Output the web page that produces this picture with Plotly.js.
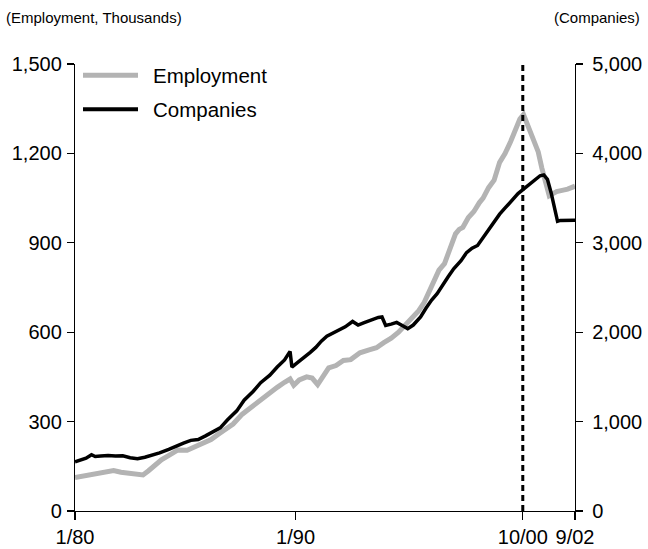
<!DOCTYPE html>
<html>
<head>
<meta charset="utf-8">
<script src="https://cdn.plot.ly/plotly-3.0.1.min.js"></script>
<style>html,body{margin:0;padding:0;background:#fff;}#chart{width:648px;height:549px;}</style>
</head>
<body>
<div id="chart"></div>
<script>
// Months since January 1980
const empMonths = [0,5,10,15,21,25,29,33,37,40,43,47,52,56,61,64,70,74,78,82,86,91,96,101,105,110,114,117,119,122,126,129,132,135,138,142,146,150,155,160,164,168,172,176,180,183,187,190,193,195,198,201,204,207,209,211,214,217,220,222,225,228,231,234,237,240,242,244,246,248,250,252,254,256,258,260,262,265,268,272];
// Employment, thousands
const employment = [112,118,121,126,136,130,126,124,121,135,150,172,190,205,204,212,228,240,258,276,292,325,350,373,390,415,432,443,422,440,450,446,424,455,480,488,505,508,531,541,548,565,580,600,625,645,672,700,740,768,808,830,875,930,945,952,985,1005,1035,1050,1085,1110,1170,1200,1240,1280,1315,1330,1300,1265,1240,1205,1150,1100,1058,1065,1072,1076,1080,1090];

const compMonths = [0,3,6,9,11,14,18,22,26,30,34,38,42,46,51,55,59,63,67,71,75,79,83,88,92,97,101,106,110,114,117,118,121,125,128,131,134,137,140,143,147,151,154,157,161,165,167,169,172,175,178,181,184,188,191,194,197,200,203,206,210,213,216,219,222,225,228,231,234,238,241,244,247,250,253,255,257,259,261,262.5,264,268,272];
// Number of companies
const companies = [550,572,590,630,610,615,620,615,617,595,585,602,625,650,690,730,760,790,800,840,880,930,1020,1120,1240,1340,1435,1520,1610,1690,1786,1610,1660,1720,1775,1830,1900,1955,1985,2020,2060,2120,2080,2105,2140,2165,2170,2075,2090,2110,2075,2040,2080,2170,2270,2360,2430,2530,2620,2710,2800,2890,2940,2970,3060,3140,3230,3320,3390,3480,3550,3600,3650,3700,3750,3760,3710,3560,3350,3240,3250,3255,3252];

const tickMonths = [0,120,243.6,272];
const tickLabels = ['1/80','1/90','10/00','9/02'];
const peakMonth = [243.6];

const seriesNames = ['Employment','Companies'];
const seriesColors = ['#b3b3b3','#000000'];

const FONT = 'Liberation Sans, Arial, Helvetica, sans-serif';

const traces = [
  {x: empMonths, y: employment, name: seriesNames[0], type: 'scatter', mode: 'lines',
   line: {color: seriesColors[0], width: 5}, yaxis: 'y', showlegend: false},
  {x: compMonths, y: companies, name: seriesNames[1], type: 'scatter', mode: 'lines',
   line: {color: seriesColors[1], width: 3.5}, yaxis: 'y2', showlegend: false}
];

const legendY = [0.975, 0.899];
const shapes = [
  {type: 'line', xref: 'x', yref: 'y', x0: peakMonth[0], x1: peakMonth[0], y0: 0, y1: 1500,
   line: {color: '#000', width: 3, dash: '6px,4px'}}
];
const annotations = [
  {text: '(Employment, Thousands)', xref: 'paper', yref: 'paper', x: -0.142, y: 1.105,
   xanchor: 'left', yanchor: 'middle', showarrow: false, font: {family: FONT, size: 15, color: '#000'}},
  {text: '(Companies)', xref: 'paper', yref: 'paper', x: 1.134, y: 1.105,
   xanchor: 'right', yanchor: 'middle', showarrow: false, font: {family: FONT, size: 15, color: '#000'}}
];
seriesNames.forEach((n, i) => {
  shapes.push({type: 'line', xref: 'paper', yref: 'paper', x0: 0.016, x1: 0.126, y0: legendY[i], y1: legendY[i],
    line: {color: seriesColors[i], width: i === 0 ? 5 : 4}});
  annotations.push({text: n, xref: 'paper', yref: 'paper', x: 0.152, y: legendY[i], xanchor: 'left', yanchor: 'middle',
    showarrow: false, font: {family: FONT, size: 20.5, color: '#000'}});
});

const axisCommon = {
  showgrid: false, zeroline: false, showline: true, linecolor: '#000', linewidth: 1.2,
  ticks: 'outside', ticklen: 7, tickcolor: '#000', tickwidth: 1.2,
  tickfont: {family: FONT, size: 20, color: '#000'}, fixedrange: true
};

const layout = {
  width: 648, height: 549,
  margin: {l: 75, r: 73, t: 64, b: 38},
  paper_bgcolor: '#fff', plot_bgcolor: '#fff',
  font: {family: FONT, color: '#000'},
  showlegend: false,
  xaxis: Object.assign({}, axisCommon, {range: [0, 272], tickvals: tickMonths, ticktext: tickLabels, ticklen: 8}),
  yaxis: Object.assign({}, axisCommon, {range: [0, 1500], tickvals: [0,300,600,900,1200,1500], tickformat: ',d',
    ticklabelstandoff: 1}),
  yaxis2: Object.assign({}, axisCommon, {range: [0, 5000], overlaying: 'y', side: 'right',
    tickvals: [0,1000,2000,3000,4000,5000], tickformat: ',d', ticklabelstandoff: 5}),
  shapes: shapes,
  annotations: annotations
};

Plotly.newPlot('chart', traces, layout, {displayModeBar: false, staticPlot: true});
</script>
</body>
</html>
